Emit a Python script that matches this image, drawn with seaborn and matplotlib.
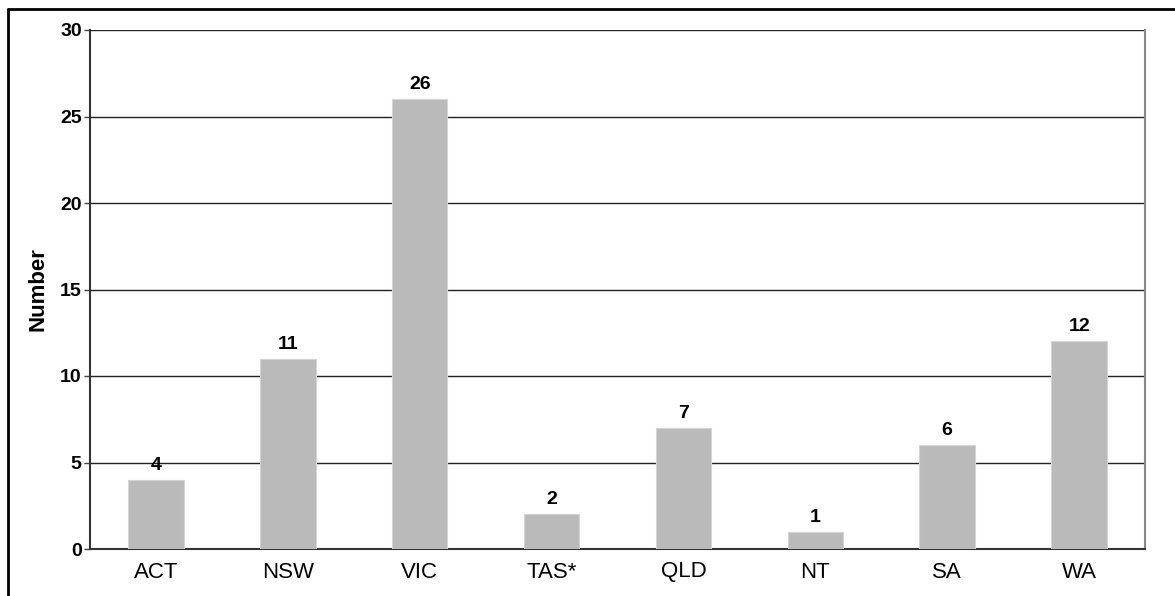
import numpy as np
import pandas as pd
import matplotlib
matplotlib.use("Agg")
import matplotlib.pyplot as plt
import seaborn as sns

# data
states = ["ACT", "NSW", "VIC", "TAS*", "QLD", "NT", "SA", "WA"]
counts = [4, 11, 26, 2, 7, 1, 6, 12]
y_ticks = [0, 5, 10, 15, 20, 25, 30]

df = pd.DataFrame({"state": states, "count": counts})

sns.set_style("white")
plt.rcParams["font.family"] = ["Liberation Sans", "DejaVu Sans"]
plt.rcParams["text.color"] = "black"
plt.rcParams["xtick.color"] = "black"
plt.rcParams["ytick.color"] = "black"
plt.rcParams["axes.labelcolor"] = "black"

fig = plt.figure(figsize=(11.75, 5.96), dpi=100)
ax = fig.add_axes([90 / 1175, 1 - 549 / 596, (1145 - 90) / 1175, (549 - 30) / 596])

sns.barplot(data=df, x="state", y="count", color="#bababa", width=0.42,
            saturation=1, ax=ax, zorder=3, edgecolor="#d4d4d4", linewidth=0.8)

ax.set_ylim(0, 30)
ax.set_xlim(-0.5, len(states) - 0.5)
ax.set_yticks(y_ticks)
ax.set_yticklabels([str(t) for t in y_ticks], fontweight="bold", fontsize=14)
ax.yaxis.grid(True, color="#222222", linewidth=1, zorder=0)
ax.set_axisbelow(True)

# labels on categories, tick marks at category boundaries
ax.tick_params(axis="x", which="major", length=0, labelsize=16, pad=9)
ax.set_xticks(np.arange(len(states) + 1) - 0.5, minor=True)
ax.tick_params(axis="x", which="minor", length=5, width=1, color="#444444", direction="out")
ax.tick_params(axis="y", length=4, width=1, color="#444444", direction="out", left=True, pad=2)

ax.set_xlabel("")
ax.set_ylabel("Number", fontweight="bold", fontsize=16, labelpad=8)

for s in ["left", "bottom"]:
    ax.spines[s].set_color("#333333")
    ax.spines[s].set_linewidth(1.5)
ax.spines["right"].set_color("#888888")
ax.spines["right"].set_linewidth(1.5)
ax.spines["top"].set_visible(False)

for i, v in enumerate(counts):
    ax.text(i, v + 0.35, str(v), ha="center", va="bottom", fontweight="bold", fontsize=14)

# outer frame (left and top edges only visible in the crop)
fig.add_artist(plt.Line2D([8 / 1175, 8 / 1175], [0, 1 - 9 / 596], color="black",
                          linewidth=2, transform=fig.transFigure))
fig.add_artist(plt.Line2D([8 / 1175, 1], [1 - 9 / 596, 1 - 9 / 596], color="black",
                          linewidth=2, transform=fig.transFigure))

fig.savefig("out.png", dpi=100)
